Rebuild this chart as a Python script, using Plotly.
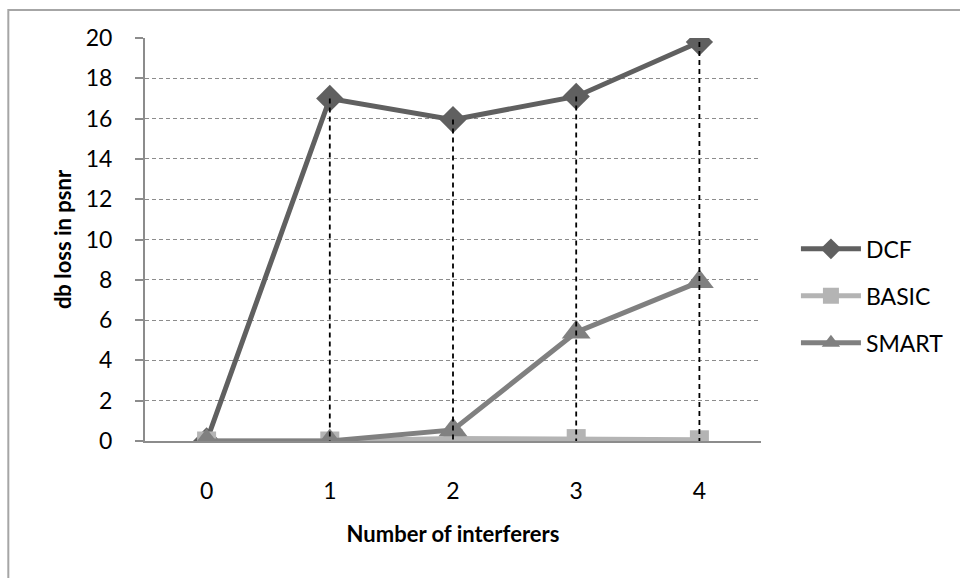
import plotly.graph_objects as go

# Number of interfering stations on the x axis
interferers = [0, 1, 2, 3, 4]

# dB loss in PSNR for each scheme
dcf = [0.0, 17.0, 15.95, 17.1, 19.8]
basic = [0.0, 0.0, 0.12, 0.12, 0.06]
smart = [0.0, 0.0, 0.55, 5.4, 7.9]

y_ticks = [0, 2, 4, 6, 8, 10, 12, 14, 16, 18, 20]

FONT = "Lato"
AXIS_GREY = "#8c8c8c"

fig = go.Figure()

fig.add_trace(go.Scatter(
    x=interferers, y=dcf, name="DCF", mode="lines+markers",
    line=dict(color="#606060", width=5),
    marker=dict(symbol="diamond", size=21, color="#606060"),
    legendgroup="dcf",
))
fig.add_trace(go.Scatter(
    x=interferers, y=basic, name="BASIC", mode="lines+markers",
    line=dict(color="#b4b4b4", width=5),
    marker=dict(symbol="square", size=19, color="#b4b4b4"),
    legendgroup="basic",
))
fig.add_trace(go.Scatter(
    x=interferers, y=smart, name="SMART", mode="lines+markers",
    line=dict(color="#808080", width=5),
    marker=dict(symbol="triangle-up", size=25, color="#808080"),
    legendgroup="smart",
))

# Drop lines from each DCF point down to the category axis
drop_x, drop_y = [], []
for xv, yv in zip(interferers, dcf):
    drop_x += [xv, xv, None]
    drop_y += [yv, 0, None]
fig.add_trace(go.Scatter(
    x=drop_x, y=drop_y, mode="lines", showlegend=False, hoverinfo="skip",
    line=dict(color="#000000", width=1.8, dash="5px,4px"),
))

# Outer chart frame
fig.add_shape(
    type="rect", xref="paper", yref="paper",
    x0=-0.2219, x1=2.0, y0=-1.0, y1=1.0695,
    line=dict(color="#a6a6a6", width=2), fillcolor="rgba(0,0,0,0)",
    layer="below",
)

fig.update_layout(
    width=960, height=578,
    margin=dict(l=145, r=197.5, t=38, b=137),
    paper_bgcolor="white", plot_bgcolor="white",
    font=dict(family=FONT, size=23, color="#000000"),
    showlegend=True,
    legend=dict(
        x=1.055, xanchor="left", y=0.36, yanchor="middle",
        font=dict(family=FONT, size=23, color="#000000"),
        tracegroupgap=14, bgcolor="rgba(0,0,0,0)",
        itemwidth=60,
    ),
    xaxis=dict(
        type="linear", range=[-0.5, 4.5],
        tickmode="array", tickvals=interferers,
        ticktext=[str(v) for v in interferers],
        showgrid=False, zeroline=False,
        showline=True, linecolor=AXIS_GREY, linewidth=2,
        ticks="", ticklabelstandoff=28,
        title=dict(text="<b>Number of interferers</b>", standoff=24,
                   font=dict(family=FONT, size=22)),
    ),
    yaxis=dict(
        range=[0, 20], tickmode="array", tickvals=y_ticks,
        showgrid=True, gridcolor="#8c8c8c", gridwidth=1.3, griddash="4px,3px",
        zeroline=False,
        showline=True, linecolor=AXIS_GREY, linewidth=2,
        ticks="outside", ticklen=8, tickcolor=AXIS_GREY, tickwidth=2,
        ticklabelstandoff=18,
        title=dict(text="<b>db loss in psnr</b>", standoff=8,
                   font=dict(family=FONT, size=22)),
    ),
)

fig.write_html("out.html")
